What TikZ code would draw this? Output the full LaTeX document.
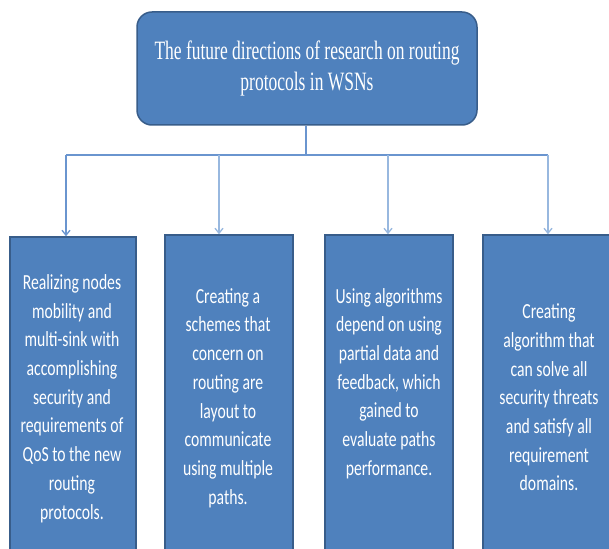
\documentclass[tikz,border=0pt]{standalone}
\usepackage{fontspec}
\usetikzlibrary{arrows.meta}
\newfontfamily\topfont[FakeStretch=0.66]{Liberation Serif}
\newfontfamily\bodyfont[FakeStretch=0.73]{Carlito}
\definecolor{boxfill}{HTML}{4F81BD}
\definecolor{boxline}{HTML}{385D8A}
\definecolor{linkA}{HTML}{6A95CF}
\definecolor{linkB}{HTML}{98B8DF}
\begin{document}
\begin{tikzpicture}[x=1pt,y=-1pt,
  topbox/.style={draw=boxline, line width=1.5pt, fill=boxfill, rounded corners=15pt,
    inner sep=0pt, text=white, align=center,
    font=\topfont\fontsize{26.5}{31}\selectfont},
  itembox/.style={draw=boxline, line width=1.5pt, fill=boxfill, inner sep=0pt},
  itemtext/.style={text=white, align=center, inner sep=0pt,
    font=\bodyfont\fontsize{21.5}{28.7}\selectfont},
  link/.style={draw=linkA, line width=1.3pt},
  linkb/.style={draw=linkB, line width=1.3pt},
  tip/.style={-{Straight Barb[length=5pt,width=8pt]}}
]
\useasboundingbox (0,0) rectangle (609,548);
\clip (0,0) rectangle (609,548);
\fill[white] (0,0) rectangle (609,548);

\node[topbox, minimum width=340pt, minimum height=113pt] (top) at (307,68.5)
  {The future directions of research on routing\\protocols in WSNs};

\node[itembox, minimum width=126pt, minimum height=322pt] (b1) at (73,398) {};
\node[itembox, minimum width=128pt, minimum height=326pt] (b2) at (229,398) {};
\node[itembox, minimum width=128pt, minimum height=326pt] (b3) at (389,398) {};
\node[itembox, minimum width=132pt, minimum height=326pt] (b4) at (549,398) {};

\node[itemtext] (t1) at (72,398.5) {Realizing nodes\\mobility and\\multi-sink with\\accomplishing\\security and\\requirements of\\QoS to the new\\routing\\protocols.};
\node[itemtext] (t2) at (228,398) {Creating a\\schemes that\\concern on\\routing are\\layout to\\communicate\\using multiple\\paths.};
\node[itemtext] (t3) at (389,383.5) {Using algorithms\\depend on using\\partial data and\\feedback, which\\gained to\\evaluate paths\\performance.};
\node[itemtext] (t4) at (549,397.5) {Creating\\algorithm that\\can solve all\\security threats\\and satisfy all\\requirement\\domains.};

\coordinate (h1) at (66,155);
\coordinate (h2) at (219,155);
\coordinate (h3) at (388,155);
\coordinate (h4) at (548,155);

\draw[link] (top.south -| 306,0) -- (306,155);
\draw[link] (h1) -- (h4);
\draw[link,tip] (h1) -- (h1 |- b1.north);
\draw[linkb,tip] (h2) -- (h2 |- b2.north);
\draw[linkb,tip] (h3) -- (h3 |- b3.north);
\draw[linkb,tip] (h4) -- (h4 |- b4.north);
\end{tikzpicture}
\end{document}
